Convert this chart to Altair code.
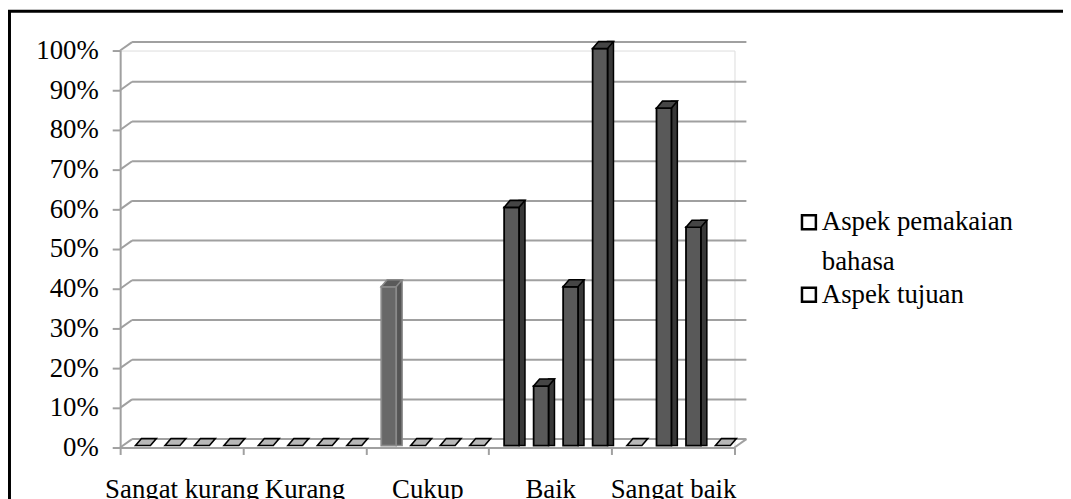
import altair as alt
import pandas as pd

categories = ["Sangat kurang", "Kurang", "Cukup", "Baik", "Sangat baik"]
series = ["Aspek pemakaian bahasa", "Aspek tujuan", "Seri 3", "Seri 4"]
s1 = [0, 0, 40, 60, 0]
s2 = [0, 0, 0, 15, 85]
s3 = [0, 0, 0, 40, 55]
s4 = [0, 0, 0, 100, 0]
y_ticks = [0, 10, 20, 30, 40, 50, 60, 70, 80, 90, 100]
legend_labels = ["Aspek pemakaian bahasa", "Aspek tujuan"]

rows = []
for name, vals in zip(series, [s1, s2, s3, s4]):
    for c, v in zip(categories, vals):
        rows.append({"category": c, "series": name, "value": v})
df = pd.DataFrame(rows)
grid_df = pd.DataFrame({"v": y_ticks})
leg_df = pd.DataFrame({"label": legend_labels})

FONT = "Liberation Serif"
FS = 27
W, H = 619, 400
DX, DY = 12, 8.5

yscale = alt.Scale(domain=[0, 100])


def xscale(shift=0.0):
    return alt.Scale(domain=categories, paddingInner=0, paddingOuter=0, range=[shift, W + shift])


xoff_scale = alt.Scale(domain=series, paddingInner=0.495, paddingOuter=0.33, align=0.79)
XO = alt.XOffset("series:N", scale=xoff_scale, sort=series)

X_axis = alt.X("category:N", scale=xscale(), sort=categories, title=None,
               axis=alt.Axis(tickBand="extent", labelAngle=0, labelFont=FONT, labelFontSize=FS,
                             labelColor="black", labelPadding=22, tickSize=7, tickColor="#a0a0a0",
                             tickWidth=2, domainColor="#a0a0a0", domainWidth=2, grid=False))
X_plain = alt.X("category:N", scale=xscale(), sort=categories, axis=None)
X_side = alt.X("category:N", scale=xscale(10.5), sort=categories, axis=None)

frame = alt.Chart(pd.DataFrame({"a": [0]})).mark_rect(
    fillOpacity=0, stroke="black", strokeWidth=3
).encode(x=alt.value(-111.5), x2=alt.value(1200), y=alt.value(-39.5), y2=alt.value(1200))

grid = alt.Chart(grid_df).mark_rule(color="#a0a0a0", strokeWidth=2, yOffset=-DY).encode(
    y=alt.Y("v:Q", scale=yscale, axis=None), x=alt.value(DX), x2=alt.value(W + DX))
grid_diag = alt.Chart(grid_df).mark_rule(color="#a0a0a0", strokeWidth=2, y2Offset=-DY).encode(
    y=alt.Y("v:Q", scale=yscale, axis=None), y2="v:Q", x=alt.value(0), x2=alt.value(DX))
floor_right = alt.Chart(grid_df).transform_filter("datum.v == 0").mark_rule(
    color="#a0a0a0", strokeWidth=2, y2Offset=-DY).encode(
    y=alt.Y("v:Q", scale=yscale, axis=None), y2="v:Q", x=alt.value(W), x2=alt.value(W + DX))

is_cukup = "datum.category == 'Cukup'"
base = alt.Chart(df)

side = base.transform_filter("datum.value > 0").mark_bar(
    width=6, yOffset=-9, y2Offset=-2, strokeWidth=1.5
).encode(
    x=X_side, xOffset=XO,
    y=alt.Y("value:Q", scale=yscale, axis=None), y2=alt.datum(0),
    fill=alt.condition(is_cukup, alt.value("#555555"), alt.value("#383838")),
    stroke=alt.condition(is_cukup, alt.value("#888888"), alt.value("black")),
)

front = base.transform_filter("datum.value > 0").mark_bar(
    yOffset=-2, y2Offset=-2, strokeWidth=1.8
).encode(
    x=X_axis, xOffset=XO,
    y=alt.Y("value:Q", scale=yscale, title=None,
            axis=alt.Axis(values=y_ticks, labelExpr="datum.value + '%'", labelFont=FONT,
                          labelFontSize=FS, labelColor="black", labelPadding=14, tickSize=8,
                          tickColor="#a0a0a0", tickWidth=2, domainColor="#a0a0a0",
                          domainWidth=2, grid=False)),
    y2=alt.datum(0),
    fill=alt.condition(is_cukup, alt.value("#686868"), alt.value("#595959")),
    stroke=alt.condition(is_cukup, alt.value("#8a8a8a"), alt.value("black")),
)

top_path = "M-0.5357,0L0.5357,0L0.9643,-0.5L-0.1071,-0.5Z"
top = base.transform_calculate(
    topfill="datum.value == 0 ? '#b8b8b8' : (datum.category == 'Cukup' ? '#5a5a5a' : '#454545')"
).mark_point(
    shape=top_path, size=784, filled=True, opacity=1, strokeWidth=1.6, yOffset=-2
).encode(
    x=X_plain, xOffset=XO,
    y=alt.Y("value:Q", scale=yscale, axis=None),
    fill=alt.Fill("topfill:N", scale=None),
    stroke=alt.condition(is_cukup + " && datum.value > 0", alt.value("#888888"), alt.value("black")),
)

leg_y = alt.Y("label:N", scale=alt.Scale(type="point", padding=0, domain=legend_labels,
                                          range=[181, 254]), axis=None)
leg_sq = alt.Chart(leg_df).mark_square(
    size=196, filled=True, fill="white", stroke="black", strokeWidth=2.5, opacity=1, yOffset=-8
).encode(x=alt.value(694), y=leg_y)
leg_tx = alt.Chart(leg_df).transform_calculate(
    disp="replace(datum.label, 'pemakaian ', 'pemakaian\\n')"
).mark_text(
    align="left", baseline="alphabetic", font=FONT, fontSize=FS, color="black",
    lineBreak="\n", lineHeight=40
).encode(x=alt.value(707), y=leg_y, text="disp:N")

chart = alt.layer(
    frame, grid, grid_diag, floor_right, side, front, top, leg_sq, leg_tx
).resolve_scale(y="independent", x="independent").properties(
    width=W, height=H,
    autosize=alt.AutoSizeParams(type="none"),
    padding={"left": 113, "top": 41, "right": 331, "bottom": 50},
).configure_view(stroke=None).configure(background="white")

chart.save("out.html", embed_options={"renderer": "svg", "actions": False})
